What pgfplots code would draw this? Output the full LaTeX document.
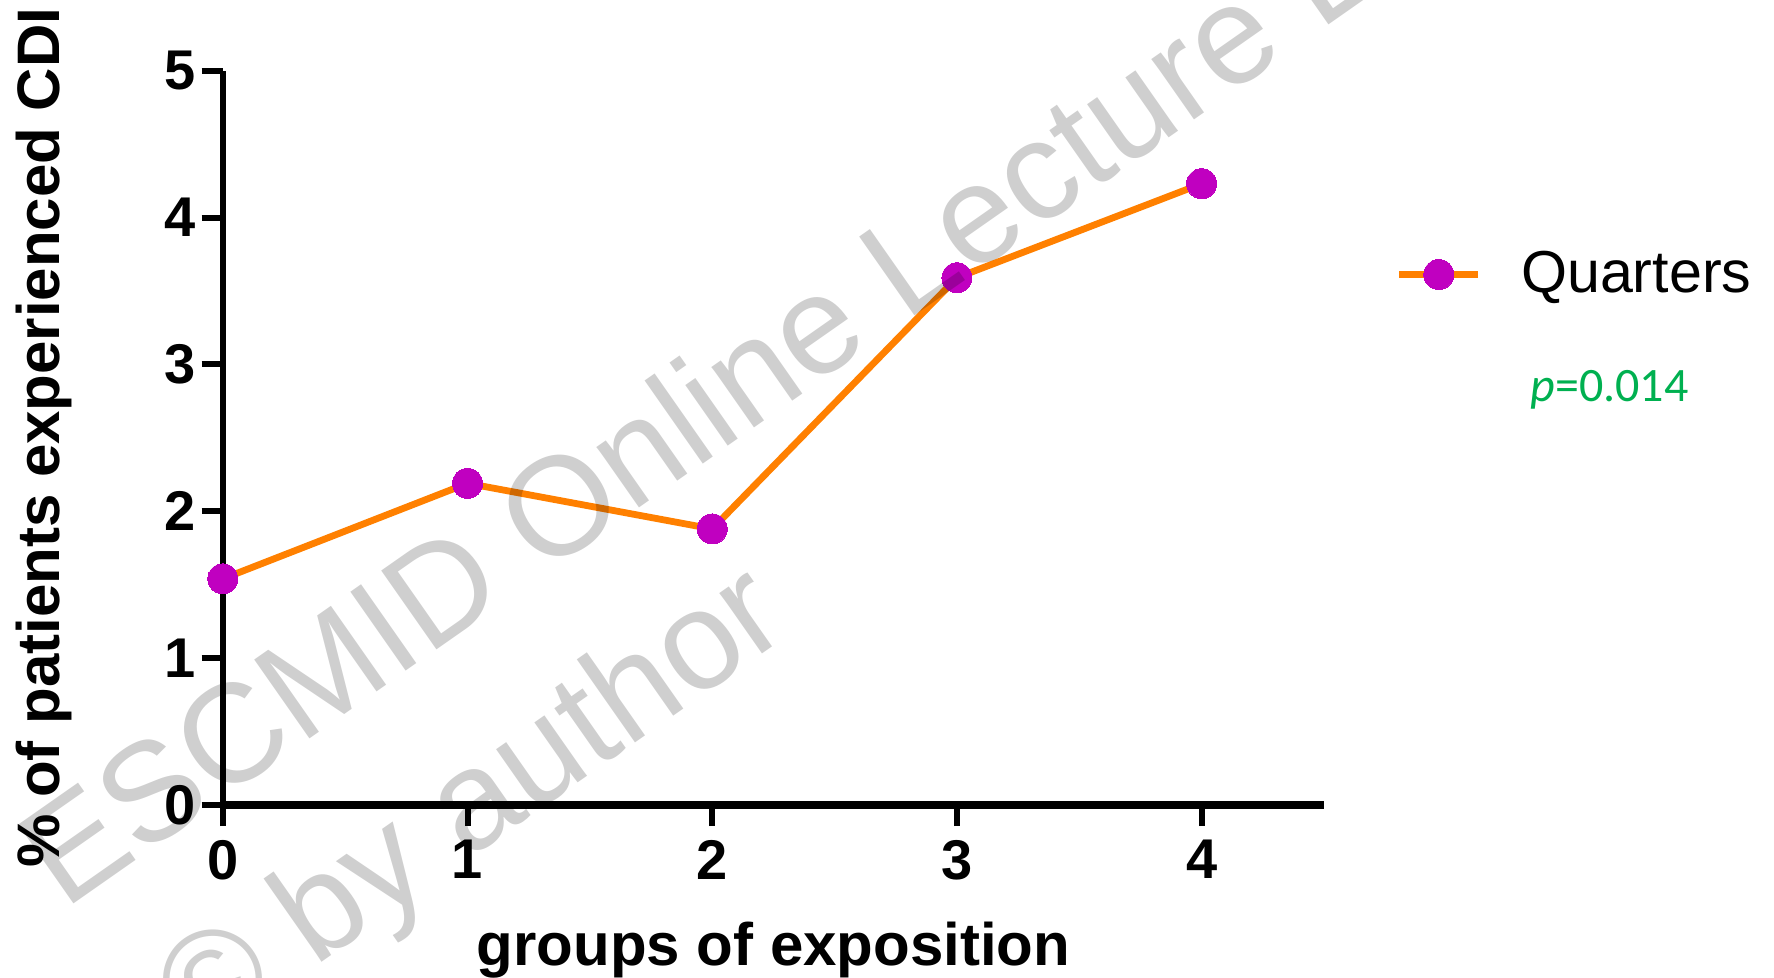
\documentclass[border=0pt]{standalone}
\usepackage{fontspec}
\setmainfont{Liberation Sans}
\newfontfamily\carlito{Carlito}
\usepackage{pgfplots}
\pgfplotsset{compat=1.18}
\definecolor{lineorange}{HTML}{FF8000}
\definecolor{mk}{HTML}{C000C0}
\definecolor{pgreen}{HTML}{00B050}
\begin{document}
\begin{tikzpicture}
\useasboundingbox (0,0) rectangle (443.5pt,244.25pt);
\clip (0,0) rectangle (443.5pt,244.25pt);
\begin{axis}[
  at={(55.7pt,43pt)}, anchor=south west,
  scale only axis, width=275.3pt, height=183.6pt,
  xmin=0, xmax=4.5, ymin=0, ymax=5,
  clip=false,
  axis x line*=bottom, axis y line*=left,
  x axis line style={line width=1.8pt,-},
  y axis line style={line width=1.5pt,-},
  xtick={0,1,2,3,4}, ytick={0,1,2,3,4,5},
  tick align=outside, major tick length=5.3pt,
  every tick/.style={black, line width=1.5pt},
  tick label style={font=\fontsize{14}{16}\selectfont\bfseries},
  yticklabel style={xshift=2pt},
  /pgf/number format/assume math mode=true,
  xlabel={groups of exposition},
  ylabel={\% of patients experienced CDI},
  label style={font=\fontsize{15}{18}\selectfont\bfseries},
  xlabel style={at={(axis description cs:0.5,-0.1982)}, anchor=center},
  ylabel style={at={(axis description cs:-0.1626,0.5)}, anchor=center},
  legend style={at={(1.0645,0.7224)}, anchor=west, draw=none, fill=none, inner sep=0pt,
    font=\fontsize{14.8}{17}\selectfont},
  legend cell align=left,
  legend image code/.code={\draw[mark repeat=2,mark phase=2,#1] plot coordinates {(0pt,0pt)(9.9pt,0pt)(19.8pt,0pt)};\path (27.6pt,0pt);},
]
\addplot[color=lineorange, line width=1.7pt, mark=*, mark size=3.75pt,
  mark options={fill=mk, draw=mk, line width=0pt}]
  coordinates {(0,1.54)(1,2.19)(2,1.88)(3,3.59)(4,4.23)};
\addlegendentry{Quarters}
\end{axis}
\node[anchor=base west, inner sep=0pt, text=pgreen, font=\carlito\fontsize{12}{14}\selectfont] at (382.4pt,143.8pt) {\textit{p}=0.014};
\node[rotate=35, anchor=base west, inner sep=0pt, font=\fontsize{35}{40}\selectfont, text=black, text opacity=0.19] at (15.96pt,16.4pt) {ESCMID Online Lecture Library};
\node[rotate=35, anchor=base west, inner sep=0pt, font=\fontsize{35}{40}\selectfont, text=black, text opacity=0.19] at (49.5pt,-18pt) {© by author};
\end{tikzpicture}
\end{document}
